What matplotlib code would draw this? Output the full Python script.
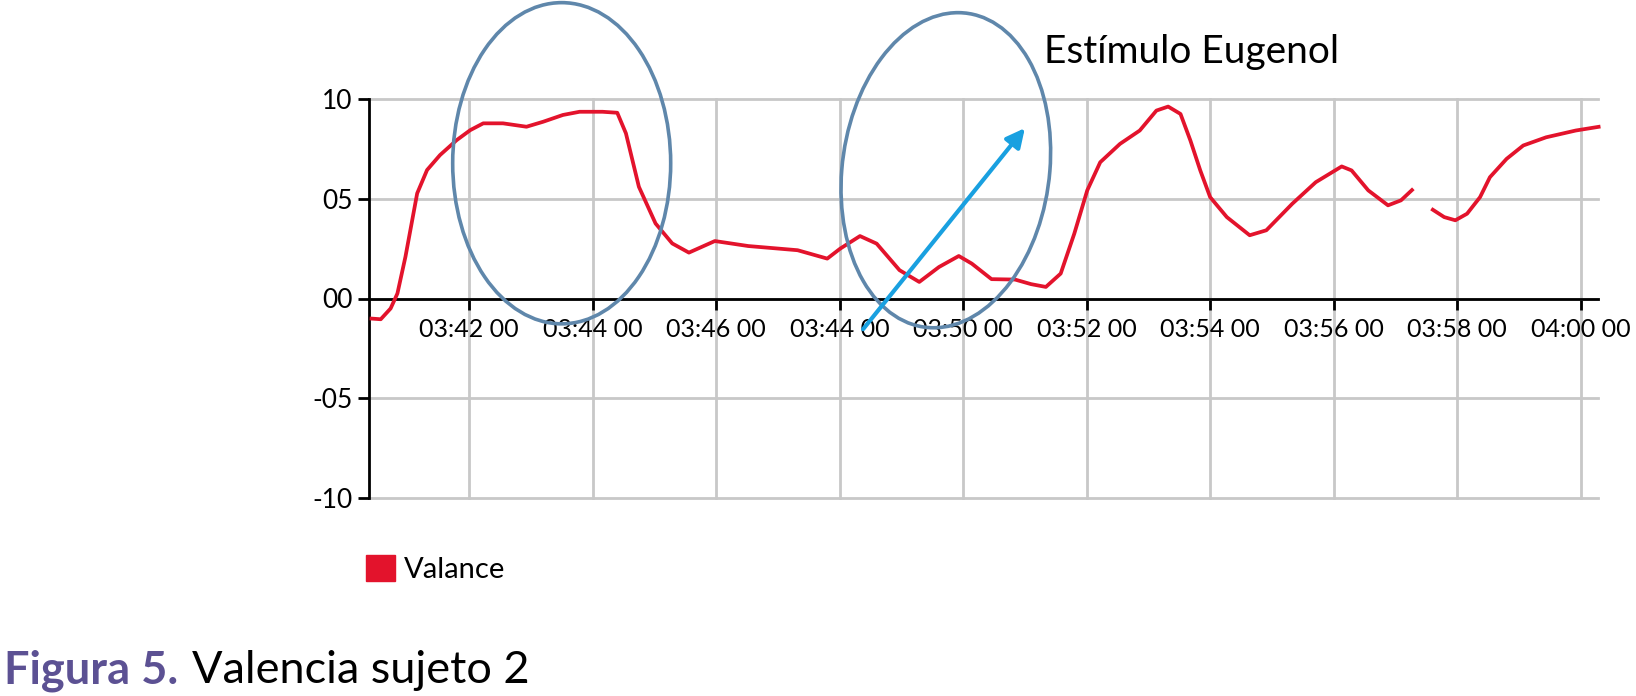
import matplotlib
matplotlib.use("Agg")
import matplotlib.pyplot as plt
from matplotlib.patches import Ellipse, Patch
import numpy as np

plt.rcParams["font.family"] = ["Lato", "DejaVu Sans"]

# minutes after 03:00 (nan = gap in the series)
minutes = [40.39, 40.57, 40.73, 40.84, 40.97, 41.16, 41.32, 41.53, 41.80, 42.02,
           42.23, 42.55, 42.93, 43.20, 43.52, 43.79, 44.16, 44.40, 44.54, 44.75,
           45.02, 45.29, 45.56, 45.98, 46.52, 47.32, 47.80, 48.01, 48.33, 48.60,
           48.97, 49.29, 49.61, 49.93, 50.14, 50.46, 50.84, 51.10, 51.34, 51.58,
           51.80, 52.01, 52.22, 52.54, 52.86, 53.13, 53.32, 53.52, 53.68, 53.84,
           54.00, 54.27, 54.64, 54.91, 55.33, 55.71, 56.13, 56.29, 56.56, 56.88,
           57.09, 57.29, 57.43, 57.58, 57.79, 57.97, 58.16, 58.37, 58.53, 58.80,
           59.07, 59.44, 59.92, 60.32]
valance = [-1.00, -1.04, -0.50, 0.25, 2.09, 5.27, 6.44, 7.19, 7.94, 8.44,
           8.78, 8.78, 8.61, 8.86, 9.20, 9.36, 9.36, 9.31, 8.28, 5.60,
           3.76, 2.76, 2.30, 2.88, 2.63, 2.42, 2.00, 2.50, 3.13, 2.75,
           1.42, 0.83, 1.58, 2.13, 1.75, 0.97, 0.95, 0.72, 0.58, 1.25,
           3.25, 5.42, 6.83, 7.75, 8.42, 9.42, 9.62, 9.25, 7.92, 6.42,
           5.08, 4.08, 3.17, 3.42, 4.75, 5.83, 6.62, 6.42, 5.42, 4.67,
           4.92, 5.50, np.nan, 4.50, 4.08, 3.92, 4.25, 5.08, 6.08, 7.00,
           7.67, 8.08, 8.42, 8.62]

xticks = [42, 44, 46, 48, 50, 52, 54, 56, 58, 60]
xlabels = ["03:42 00", "03:44 00", "03:46 00", "03:44 00", "03:50 00",
           "03:52 00", "03:54 00", "03:56 00", "03:58 00", "04:00 00"]
yticks = [-10, -5, 0, 5, 10]
ylabels = ["-10", "-05", "00", "05", "10"]

W, H = 1636, 696
fig = plt.figure(figsize=(W / 100, H / 100), dpi=100)
ax = fig.add_axes([369 / W, 198 / H, (1598 - 369) / W, (597 - 198) / H])

ax.plot(minutes, valance, color="#e3132c", lw=2.7, clip_on=False, zorder=3,
        solid_joinstyle="round", solid_capstyle="butt")

for s in ["top", "right"]:
    ax.spines[s].set_visible(False)
ax.spines["bottom"].set_position(("data", 0))  # resets ticks, so set them after
ax.spines["bottom"].set_linewidth(2)
ax.spines["left"].set_linewidth(2)
ax.spines["bottom"].set_zorder(2.5)

ax.set_xlim(40.38, 60.28)
ax.set_ylim(-10, 10)
ax.set_xticks(xticks)
ax.set_xticklabels(xlabels)
ax.set_yticks(yticks)
ax.set_yticklabels(ylabels)
ax.tick_params(axis="both", direction="out", length=8, width=2, color="black")
ax.tick_params(axis="x", pad=6, labelsize=18)
ax.tick_params(axis="y", pad=4, labelsize=19)

ax.grid(True, color="#c8c8c8", lw=2)
for gl in ax.get_xgridlines() + ax.get_ygridlines():
    gl.set_clip_on(False)
ax.set_axisbelow(True)

# annotations: circles and stimulus arrow
ax.add_patch(Ellipse((43.5, 6.78), 3.53, 16.1, fill=False, ec="#5f87ab",
                     lw=2.6, clip_on=False, zorder=4))
ax.add_patch(Ellipse((49.72, 6.43), 3.37, 15.8, angle=-1.5, fill=False,
                     ec="#5f87ab", lw=2.6, clip_on=False, zorder=4))
ax.annotate("", xy=(51.0, 8.54), xytext=(48.38, -1.54),
            arrowprops=dict(arrowstyle="-|>", color="#19a0e0", lw=3,
                            mutation_scale=28, shrinkA=0, shrinkB=0),
            annotation_clip=False, zorder=5)
fig.text(1044 / W, (H - 63) / H, "Estímulo Eugenol", fontsize=28,
         va="baseline", ha="left")

ax.legend(handles=[Patch(color="#e3132c", label="Valance")], loc="upper left",
          bbox_to_anchor=(366 / W, (H - 555) / H), bbox_transform=fig.transFigure,
          frameon=False, fontsize=21, handlelength=1.0, handleheight=1.0,
          handletextpad=0.3, borderpad=0, borderaxespad=0)

t1 = fig.text(4 / W, (H - 683) / H, "Figura 5.", fontsize=32.5, fontweight="bold",
              color="#5c5193", va="baseline", ha="left")
fig.canvas.draw()
bb = t1.get_window_extent()
fig.text((bb.x1 + 14) / W, (H - 683) / H, "Valencia sujeto 2", fontsize=32.5,
         va="baseline", ha="left")

fig.savefig("out.png", dpi=100)
